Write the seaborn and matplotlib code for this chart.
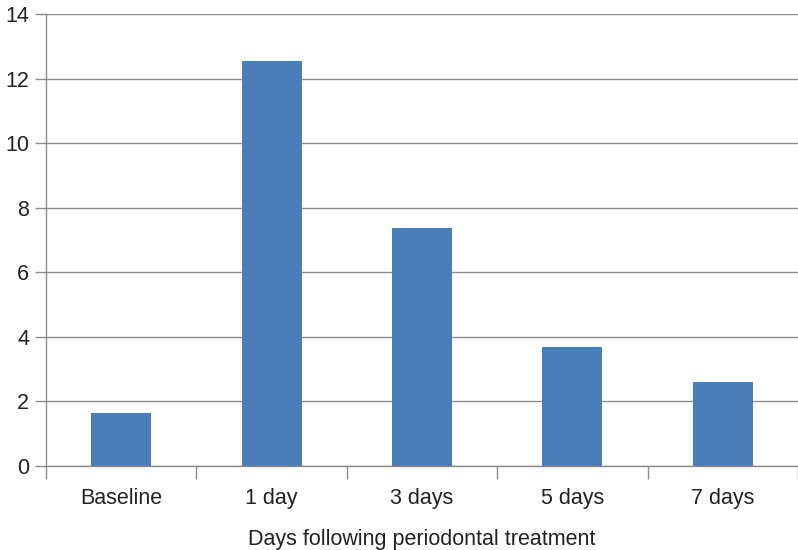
import matplotlib
matplotlib.use("Agg")
import matplotlib.pyplot as plt
import seaborn as sns
import pandas as pd
from matplotlib.ticker import FixedLocator

categories = ["Baseline", "1 day", "3 days", "5 days", "7 days"]
values = [1.64, 12.54, 7.37, 3.69, 2.60]
y_ticks = [0, 2, 4, 6, 8, 10, 12, 14]
x_label = "Days following periodontal treatment"

sns.set_theme(style="white")
plt.rcParams["font.family"] = ["Liberation Sans", "DejaVu Sans"]

df = pd.DataFrame({"day": categories, "value": values})

fig = plt.figure(figsize=(7.98, 5.5), dpi=100)
ax = fig.add_axes([46 / 798, 84 / 550, 1 - 46 / 798, 452 / 550])

sns.barplot(data=df, x="day", y="value", color="#4a7ebb", saturation=1,
            width=0.4, linewidth=0, edgecolor="none", ax=ax, zorder=3)

grid_col = "#8c8c8c"
ax.set_ylim(0, 14)
ax.set_xlim(-0.5, 4.5)
ax.set_yticks(y_ticks)
ax.yaxis.grid(True, color=grid_col, linewidth=1.0, zorder=0)
ax.set_axisbelow(True)

for side in ["top", "right"]:
    ax.spines[side].set_visible(False)
for side in ["left", "bottom"]:
    ax.spines[side].set_color(grid_col)
    ax.spines[side].set_linewidth(1.0)

# y ticks: outward marks; x: boundary marks between categories
ax.tick_params(axis="y", which="major", left=True, length=8, width=1.0,
               color=grid_col, labelsize=15.5, labelcolor="#222222", pad=4)
ax.tick_params(axis="x", which="major", bottom=False, labelsize=15.5,
               labelcolor="#222222", pad=10)
ax.xaxis.set_minor_locator(FixedLocator([-0.5, 0.5, 1.5, 2.5, 3.5, 4.5]))
ax.tick_params(axis="x", which="minor", bottom=True, length=9, width=1.0,
               color=grid_col)

ax.set_xlabel(x_label, fontsize=15.5, color="#222222", labelpad=14)
ax.set_ylabel("")

fig.savefig("out.png", dpi=100)
